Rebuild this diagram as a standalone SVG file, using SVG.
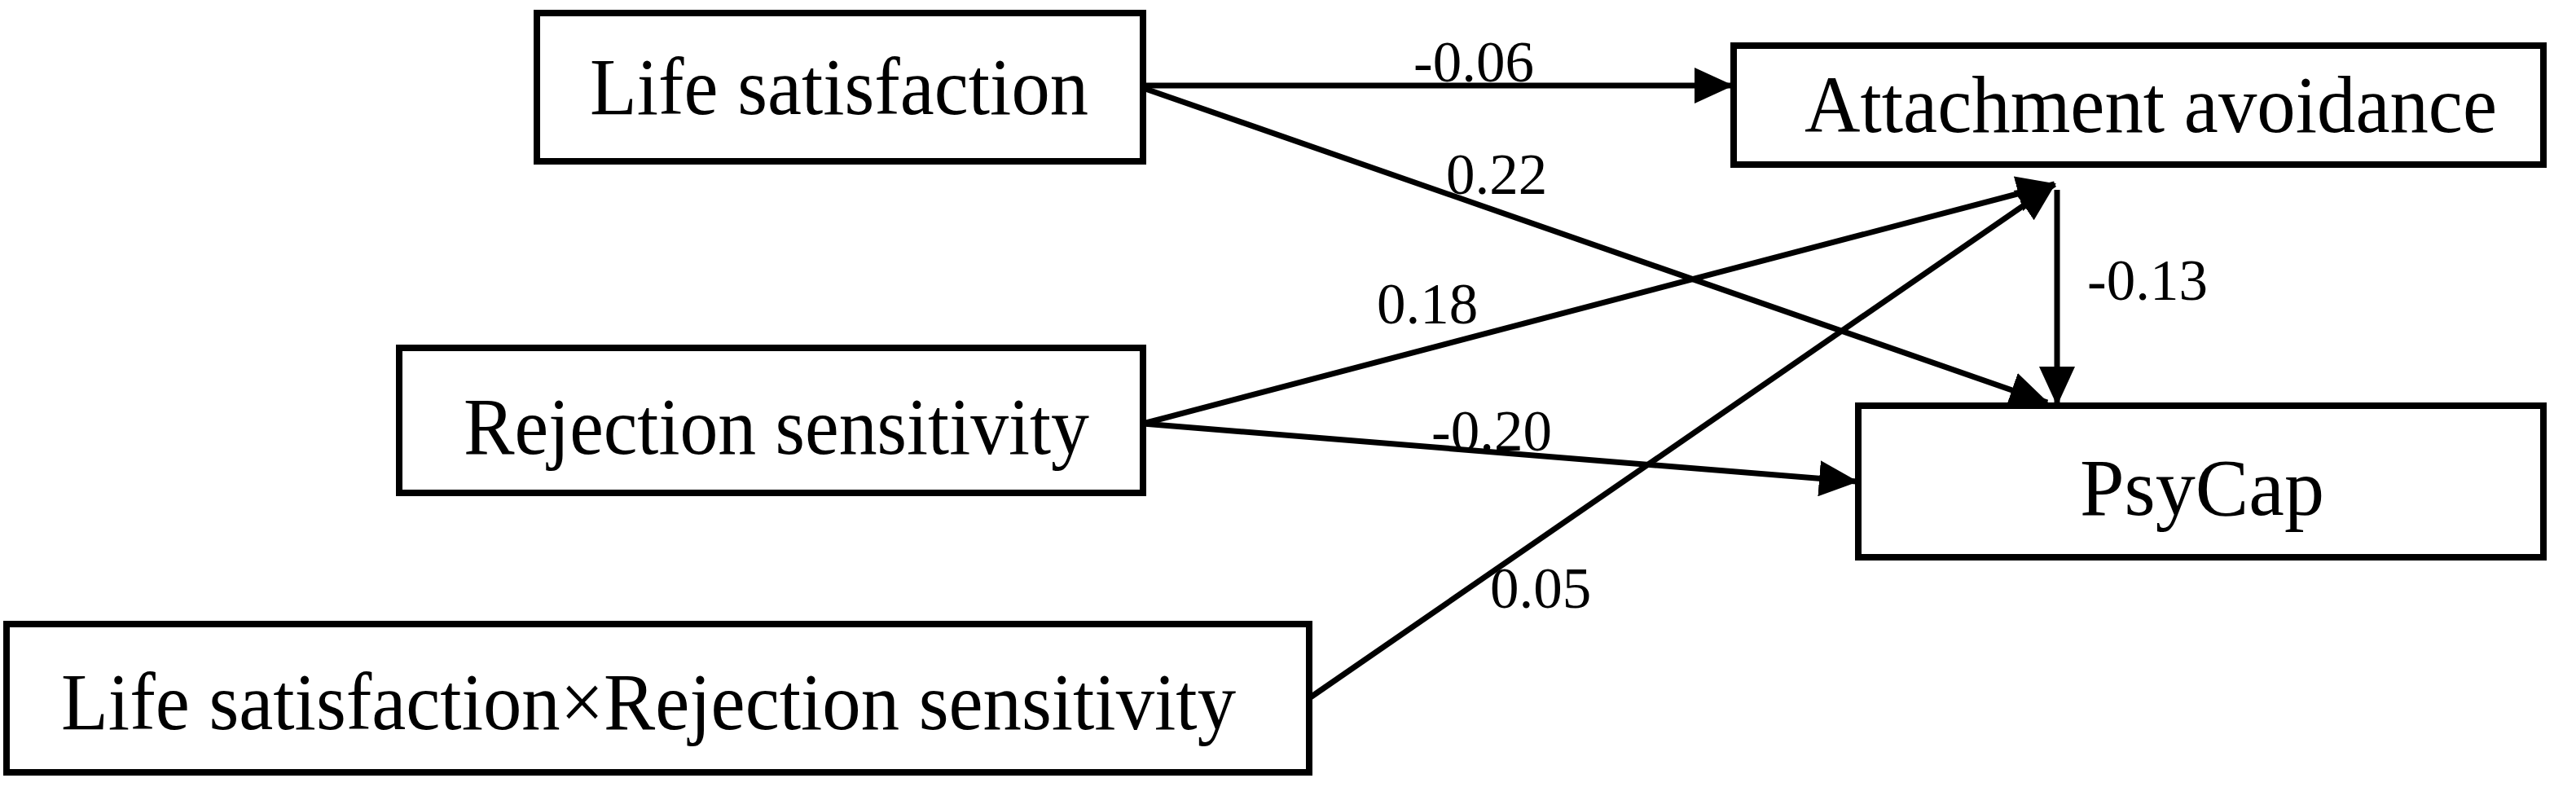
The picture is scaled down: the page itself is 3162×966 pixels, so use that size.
<svg xmlns="http://www.w3.org/2000/svg" width="3162" height="966" viewBox="0 0 3162 966">
<defs>
<style>
.box{fill:#fff;stroke:#000;stroke-width:8}
.nt{font-family:"Liberation Serif","Times New Roman",serif;font-size:99px;fill:#000;text-anchor:middle}
.lb{font-family:"Liberation Serif","Times New Roman",serif;font-size:71px;fill:#000}
.ed{stroke:#000;stroke-width:7;fill:none;marker-end:url(#ah)}
</style>
<marker id="ah" markerUnits="userSpaceOnUse" markerWidth="48" markerHeight="44" refX="46" refY="22" orient="auto">
<path d="M0,0 L48,22 L0,44 Z" fill="#000"/>
</marker>
</defs>
<rect width="3162" height="966" fill="#fff"/>
<g id="connectors">
<line class="ed" x1="1403" y1="105" x2="2126" y2="105"/>
<line class="ed" x1="1403" y1="108" x2="2513" y2="494"/>
<line class="ed" x1="2525" y1="233" x2="2525" y2="496"/>
<line class="ed" x1="1403" y1="520" x2="2522" y2="226"/>
<line class="ed" x1="1403" y1="520" x2="2279" y2="591"/>
<line class="ed" x1="1607" y1="857" x2="2522" y2="226"/>
</g>
<g id="labels">
<text class="lb" x="1735" y="100">-0.06</text>
<text class="lb" x="1775" y="238">0.22</text>
<text class="lb" x="1690" y="397">0.18</text>
<text class="lb" x="1757" y="553">-0.20</text>
<text class="lb" x="1829" y="746">0.05</text>
<text class="lb" x="2562" y="368">-0.13</text>
</g>
<g id="node-ls"><rect class="box" x="659" y="16" width="744" height="182"/><text class="nt" x="1030" y="140" textLength="612" lengthAdjust="spacingAndGlyphs">Life satisfaction</text></g>
<g id="node-aa"><rect class="box" x="2128" y="56" width="994" height="146"/><text class="nt" x="2640" y="162" textLength="850" lengthAdjust="spacingAndGlyphs">Attachment avoidance</text></g>
<g id="node-rs"><rect class="box" x="490" y="427" width="913" height="178"/><text class="nt" x="953" y="557" textLength="768" lengthAdjust="spacingAndGlyphs">Rejection sensitivity</text></g>
<g id="node-pc"><rect class="box" x="2281" y="498" width="841" height="186"/><text class="nt" x="2703" y="632" textLength="300" lengthAdjust="spacingAndGlyphs">PsyCap</text></g>
<g id="node-lsxrs"><rect class="box" x="8" y="766" width="1599" height="182"/><text class="nt" x="796" y="895" textLength="1442" lengthAdjust="spacingAndGlyphs">Life satisfaction×Rejection sensitivity</text></g>
</svg>
